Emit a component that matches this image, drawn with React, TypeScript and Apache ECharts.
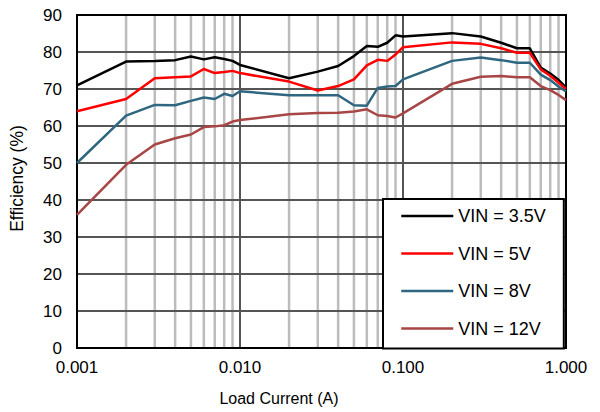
import React, { useEffect, useRef } from "react";
import * as echarts from "echarts";

const loadCurrent = [
  0.001, 0.002, 0.003, 0.004, 0.005, 0.006, 0.007, 0.008, 0.009,
  0.01, 0.02, 0.03, 0.04, 0.05, 0.06, 0.07, 0.08, 0.09,
  0.1, 0.2, 0.3, 0.4, 0.5, 0.6, 0.7, 0.8, 0.9, 1,
];

const vin35 = [
  71.0, 77.4, 77.6, 77.8, 78.8, 78.0, 78.6, 78.1, 77.6,
  76.5, 72.9, 74.7, 76.2, 78.9, 81.6, 81.4, 82.5, 84.5,
  84.2, 85.1, 84.2, 82.5, 81.0, 81.0, 75.8, 74.2, 72.5, 70.4,
];
const vin5 = [
  64.0, 67.3, 72.9, 73.2, 73.4, 75.4, 74.3, 74.6, 74.9,
  74.3, 72.0, 69.6, 70.8, 72.6, 76.4, 77.9, 77.6, 79.3,
  81.3, 82.6, 82.2, 81.0, 79.8, 79.8, 75.3, 73.6, 71.7, 70.0,
];
const vin8 = [
  50.0, 62.8, 65.7, 65.6, 66.8, 67.7, 67.3, 68.7, 68.1,
  69.4, 68.3, 68.3, 68.3, 65.6, 65.5, 70.3, 70.7, 70.8,
  72.6, 77.6, 78.5, 77.8, 77.1, 77.1, 73.9, 72.4, 70.7, 69.3,
];
const vin12 = [
  36.0, 49.5, 55.0, 56.7, 57.7, 59.7, 59.9, 60.2, 61.2,
  61.6, 63.2, 63.5, 63.6, 63.9, 64.5, 62.9, 62.7, 62.3,
  63.4, 71.4, 73.3, 73.5, 73.2, 73.2, 70.8, 69.7, 68.4, 67.0,
];

const seriesNames = ["VIN = 3.5V", "VIN = 5V", "VIN = 8V", "VIN = 12V"];
const seriesColors = ["#000000", "#ff0000", "#2f6680", "#a84545"];
const minorTicks = [
  0.002, 0.003, 0.004, 0.005, 0.006, 0.007, 0.008, 0.009,
  0.02, 0.03, 0.04, 0.05, 0.06, 0.07, 0.08, 0.09,
  0.2, 0.3, 0.4, 0.5, 0.6, 0.7, 0.8, 0.9,
];
const yMin = 0;
const yMax = 90;

const FONT = "'Liberation Sans', Arial, sans-serif";

export default function App() {
  const ref = useRef<HTMLDivElement>(null);
  useEffect(() => {
    document.body.style.margin = "0";
    const chart = echarts.init(ref.current!, null, { renderer: "svg" });
    const allData = [vin35, vin5, vin8, vin12];
    const lineSeries = allData.map((vals, i) => ({
      name: seriesNames[i],
      type: "line",
      data: loadCurrent.map((x, j) => [x, vals[j]]),
      symbol: "none",
      showSymbol: false,
      z: 3,
      lineStyle: { color: seriesColors[i], width: 2.5 },
      itemStyle: { color: seriesColors[i] },
    }));
    const minorData: any[] = [];
    minorTicks.forEach((v) => {
      minorData.push([v, yMin], [v, yMax], [v, "-"]);
    });
    chart.setOption({
      animation: false,
      textStyle: { fontFamily: FONT },
      grid: {
        left: 77,
        right: 34,
        top: 15,
        bottom: 64,
        show: true,
        borderColor: "#000",
        borderWidth: 2,
        backgroundColor: "transparent",
        z: 3,
      },
      legend: {
        orient: "vertical",
        left: 383,
        top: 199,
        data: seriesNames,
        itemWidth: 52,
        itemHeight: 18,
        itemGap: 19.5,
        padding: [8, 18, 11, 17],
        backgroundColor: "#fff",
        borderColor: "#000",
        borderWidth: 2,
        z: 10,
        itemStyle: { opacity: 0 },
        lineStyle: { width: 2.5 },
        textStyle: { fontSize: 18, color: "#000", fontFamily: FONT },
      },
      xAxis: {
        type: "log",
        logBase: 10,
        min: 0.001,
        max: 1,
        z: 2,
        name: "Load Current (A)",
        nameLocation: "middle",
        nameGap: 42,
        nameTextStyle: {
          fontSize: 16,
          color: "#000",
          fontFamily: FONT,
          padding: [0, 85, 0, 0],
        },
        axisLine: { show: true, lineStyle: { color: "#000", width: 2 } },
        axisTick: { show: false },
        axisLabel: {
          fontSize: 17,
          color: "#000",
          margin: 11,
          fontFamily: FONT,
          formatter: (v: number) => v.toFixed(3),
        },
        splitLine: { show: true, lineStyle: { color: "#555", width: 2 } },
      },
      yAxis: {
        type: "value",
        min: yMin,
        max: yMax,
        interval: 10,
        z: 2,
        name: "Efficiency (%)",
        nameLocation: "middle",
        nameGap: 51,
        nameTextStyle: {
          fontSize: 17.5,
          color: "#000",
          fontFamily: FONT,
          padding: [0, 0, 0, 6],
        },
        axisLine: { show: true, lineStyle: { color: "#000", width: 2 } },
        axisTick: { show: false },
        axisLabel: { fontSize: 17, color: "#000", margin: 15, fontFamily: FONT },
        splitLine: { show: true, lineStyle: { color: "#555", width: 2 } },
      },
      series: [
        {
          name: "minor",
          type: "line",
          data: minorData,
          z: 1,
          silent: true,
          symbol: "none",
          showSymbol: false,
          connectNulls: false,
          lineStyle: { color: "#bcbcbc", width: 2.5 },
          emphasis: { disabled: true },
        },
        ...lineSeries,
      ],
    });
    return () => chart.dispose();
  }, []);
  return <div ref={ref} style={{ width: 600, height: 412 }} />;
}
